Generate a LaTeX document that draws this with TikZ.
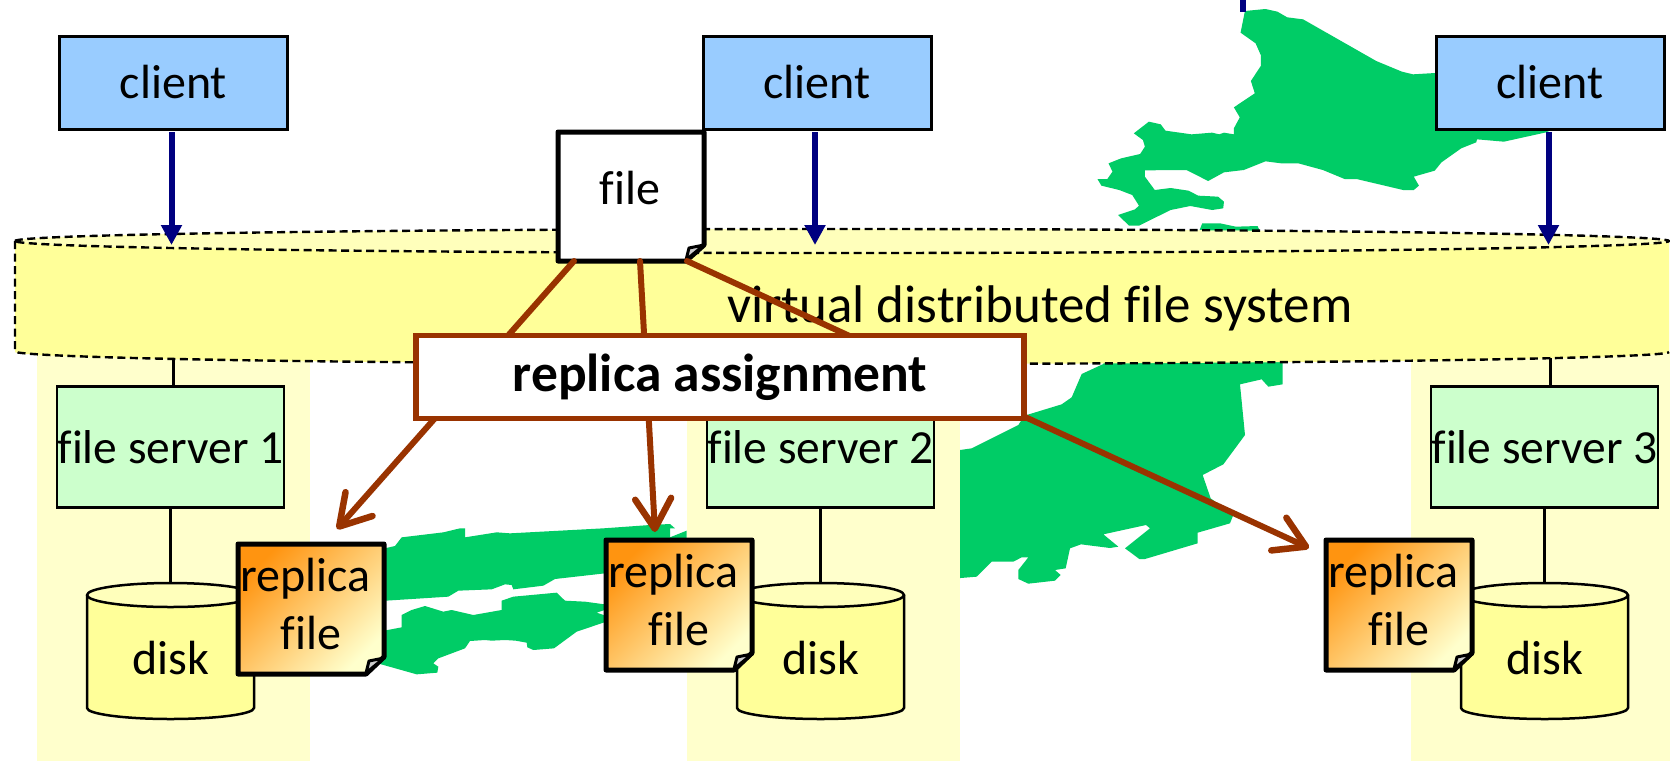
\documentclass[tikz,border=0pt]{standalone}
\usepackage{fontspec}
\setmainfont[Ligatures=NoCommon]{Carlito}
\usetikzlibrary{arrows.meta,calc}
\definecolor{panelc}{HTML}{FFFFCC}
\definecolor{bodyc}{HTML}{FFFF99}
\definecolor{topc}{HTML}{FFFFBB}
\definecolor{greenc}{HTML}{00CC66}
\definecolor{clientc}{HTML}{99CCFF}
\definecolor{serverc}{HTML}{CCFFCC}
\definecolor{brownc}{HTML}{993300}
\definecolor{navyc}{HTML}{000080}
\definecolor{orangec}{HTML}{FF9410}
\definecolor{midc}{HTML}{FFC888}
\definecolor{palec}{HTML}{FFFFCC}
\tikzset{
  lab/.style={font=\fontsize{48}{58}\selectfont,inner sep=0pt,align=center},
  clientbox/.style={draw=black,fill=clientc,line width=3pt,minimum width=228pt,minimum height=93pt,inner sep=0pt,font=\fontsize{48}{56}\selectfont},
  serverbox/.style={draw=black,fill=serverc,line width=2.5pt,minimum width=227pt,minimum height=121pt,inner sep=0pt,font=\fontsize{47.5}{56}\selectfont},
  panel/.style={fill=panelc,draw=none},
  land/.style={fill=greenc,draw=none},
  reqarrow/.style={draw=navyc,line width=6pt,-{Triangle[length=20pt,width=20pt]}},
  wire/.style={draw=black,line width=3pt},
  assign/.style={draw=brownc,line width=6pt,line cap=round},
  assignarrow/.style={assign,-{Straight Barb[length=30pt,width=36pt,round,line width=6.5pt]}},
  docedge/.style={draw=black,line width=5pt,line join=round},
  foldmark/.style={draw=black,line width=3pt,line join=round,fill=#1},
  diskedge/.style={draw=black,line width=2.5pt,line join=round},
  vdfs/.style={draw=black,line width=2.4pt,dash pattern=on 8pt off 4.5pt},
}
% disk: #1 centre x
\newcommand{\diskdraw}[1]{%
  \path[fill=bodyc,diskedge] (#1-83.5,595) -- (#1-83.5,708) .. controls (#1-83.5,714) and (#1-46,719) .. (#1,719) .. controls (#1+46,719) and (#1+83.5,714) .. (#1+83.5,708) -- (#1+83.5,595) -- cycle;
  \path[fill=topc,diskedge] (#1-83.5,595) .. controls (#1-83.5,588.4) and (#1-46,583) .. (#1,583) .. controls (#1+46,583) and (#1+83.5,588.4) .. (#1+83.5,595) .. controls (#1+83.5,601.6) and (#1+46,607) .. (#1,607) .. controls (#1-46,607) and (#1-83.5,601.6) .. (#1-83.5,595) -- cycle;
}
% replica document: #1 left, #2 top
\newcommand{\replicadraw}[2]{%
  \shade[left color=orangec,middle color=midc,right color=palec,shading angle=45]
    (#1,#2) -- (#1+146,#2) -- (#1+146,#2+113) -- (#1+128,#2+130) -- (#1,#2+130) -- cycle;
  \path[docedge] (#1,#2) -- (#1+146,#2) -- (#1+146,#2+113) -- (#1+128,#2+130) -- (#1,#2+130) -- cycle;
  \path[foldmark=gray!40] (#1+146,#2+114) -- (#1+131,#2+117) -- (#1+128,#2+129) -- cycle;
}
\begin{document}
\begin{tikzpicture}[x=1pt,y=-1pt]
\useasboundingbox (0,0) rectangle (1670,761);
\fill[white] (0,0) rectangle (1670,761);
% land, zoom-traced
\begin{scope}[shift={(1050,0)},x=0.3954pt,y=-0.33333pt]
\path[land] (493,33)--(545,27)--(575,35)--(600,52)--(640,58)--(825,183)--(890,215)--(918,223)--(1100,210)--(1300,300)--(1280,383)--(1255,397)--(1148,425)--(1080,418)--(1078,427)--(1040,445)--(990,487)--(973,512)--(920,530)--(933,557)--(920,570)--(893,570)--(775,537)--(745,537)--(690,510)--(628,490)--(585,490)--(545,484)--(490,510)--(440,517)--(400,543)--(345,510)--(240,511)--(240,530)--(265,570)--(305,564)--(350,572)--(375,587)--(425,590)--(440,605)--(438,625)--(410,630)--(355,618)--(305,630)--(225,677)--(200,677)--(172,645)--(215,628)--(225,617)--(208,585)--(175,570)--(130,557)--(120,537)--(145,537)--(158,515)--(148,490)--(180,475)--(228,462)--(240,440)--(235,420)--(212,400)--(250,365)--(280,373)--(292,392)--(358,403)--(410,398)--(428,403)--(440,398)--(465,403)--(465,385)--(480,352)--(465,322)--(518,280)--(508,243)--(533,198)--(533,165)--(520,130)--(482,98)--cycle;
\path[land] (375,700)--(385,670)--(430,670)--(470,680)--(525,678)--(533,700)--cycle;
\end{scope}
\begin{scope}[shift={(900,340)},x=0.33333pt,y=-0.33333pt]
\path[land] (180,330)--(215,325)--(355,255)--(370,232)--(380,225)--(485,193)--(515,172)--(545,102)--(610,72)--(610,40)--(1148,40)--(1148,133)--(1105,140)--(1085,118)--(1020,133)--(1035,285)--(970,373)--(908,405)--(932,475)--(1000,525)--(990,550)--(893,578)--(893,610)--(735,657)--(718,657)--(675,625)--(750,565)--(738,555)--(610,583)--(655,620)--(630,624)--(543,613)--(510,625)--(497,685)--(465,690)--(482,705)--(465,722)--(385,731)--(355,717)--(355,690)--(385,652)--(365,652)--(340,665)--(275,665)--(230,710)--(170,715)--(170,330)--cycle;
\end{scope}
\begin{scope}[shift={(350,480)},x=0.33333pt,y=-0.33333pt]
\path[land] (60,215)--(135,198)--(155,172)--(280,157)--(330,145)--(345,145)--(345,172)--(440,157)--(480,160)--(760,145)--(900,135)--(960,132)--(975,145)--(960,145)--(960,172)--(1010,152)--(1010,200)--(900,230)--(765,280)--(615,297)--(580,317)--(490,328)--(485,315)--(465,313)--(425,328)--(325,332)--(295,350)--(60,365)--cycle;
\path[land] (60,460)--(155,442)--(155,405)--(185,390)--(225,378)--(280,395)--(305,390)--(370,405)--(455,390)--(455,362)--(490,350)--(620,338)--(645,362)--(705,365)--(800,378)--(740,398)--(800,418)--(760,428)--(680,455)--(612,505)--(550,510)--(532,502)--(530,488)--(497,482)--(465,480)--(425,482)--(405,480)--(360,483)--(345,505)--(265,535)--(250,550)--(265,560)--(262,578)--(200,583)--(90,552)--(60,540)--cycle;
\end{scope}
% panels
\path[panel] (37,352) rectangle (310,761);
\path[panel] (687,352) rectangle (960,761);
\path[panel] (1411,352) rectangle (1670,761);
% top stub
\coordinate (stubA) at (1242.5,0);
\coordinate (stubB) at (1242.5,12);
\draw[draw=navyc,line width=6pt] (stubA) -- (stubB);
% virtual distributed file system
\path[fill=bodyc] (15,241) .. controls (15,247.6) and (385,253) .. (842,253) .. controls (1299,253) and (1669,247.6) .. (1669,241) -- (1669,352) .. controls (1669,358.6) and (1299,364) .. (842,364) .. controls (385,364) and (15,358.6) .. (15,352) -- cycle;
\path[fill=topc] (15,241) .. controls (15,234.4) and (385,229) .. (842,229) .. controls (1299,229) and (1669,234.4) .. (1669,241) .. controls (1669,247.6) and (1299,253) .. (842,253) .. controls (385,253) and (15,247.6) .. (15,241) -- cycle;
\path[vdfs] (15,241) .. controls (15,234.4) and (385,229) .. (842,229) .. controls (1299,229) and (1669,234.4) .. (1669,241) .. controls (1669,247.6) and (1299,253) .. (842,253) .. controls (385,253) and (15,247.6) .. (15,241) -- cycle;
\path[vdfs] (15,241) -- (15,349) .. controls (15,351) and (16,352) .. (18,352.5) .. controls (60,359) and (385,364) .. (842,364) .. controls (1299,364) and (1669,358.6) .. (1669,352);
\node[lab,font=\fontsize{53}{60}\selectfont] (vdfslabel) at (1040,308) {virtual distributed file system};
% clients
\node[clientbox] (client1) at (173.5,82.5) {client};
\node[clientbox] (client2) at (817,82.5) {client};
\node[clientbox] (client3) at (1550,82.5) {client};
\coordinate (c1a) at (171.5,132); \coordinate (c1b) at (171.5,245);
\coordinate (c2a) at (815,132);   \coordinate (c2b) at (815,245);
\coordinate (c3a) at (1548.5,132);\coordinate (c3b) at (1548.5,245);
\draw[reqarrow] (c1a) -- (c1b);
\draw[reqarrow] (c2a) -- (c2b);
\draw[reqarrow] (c3a) -- (c3b);
% servers
\node[serverbox] (server1) at (170.5,447) {\raisebox{-2pt}{file server 1}};
\node[serverbox] (server2) at (820.5,447) {\raisebox{-2pt}{file server 2}};
\node[serverbox] (server3) at (1544.5,447) {\raisebox{-2pt}{file server 3}};
\coordinate (s1up) at (173,358); \coordinate (s1in) at (173,386);
\coordinate (s3up) at (1550.5,358);\coordinate (s3in) at (1550.5,386);
\draw[wire] (s1up) -- (s1in);
\draw[wire] (s3up) -- (s3in);
% disks
\coordinate (d1top) at (170.5,583);
\coordinate (d2top) at (820.5,583);
\coordinate (d3top) at (1544.5,583);
\draw[wire] (server1.south) -- (d1top);
\draw[wire] (server2.south) -- (d2top);
\draw[wire] (server3.south) -- (d3top);
\diskdraw{170.5}
\diskdraw{820.5}
\diskdraw{1544.5}
\node[lab] (disk1) at (170.5,658) {disk};
\node[lab] (disk2) at (820.5,658) {disk};
\node[lab] (disk3) at (1544.5,658) {disk};
% replicas
\replicadraw{238}{544}
\replicadraw{606}{540}
\replicadraw{1326}{540}
\node[lab] (replica1) at (311,604) {replica\hspace*{0.23em}\\file};
\node[lab] (replica2) at (679,600) {replica\hspace*{0.23em}\\file};
\node[lab] (replica3) at (1399,600) {replica\hspace*{0.23em}\\file};
% master file
\path[fill=white,docedge] (558,132) -- (704,132) -- (704,245) -- (686,261) -- (558,261) -- cycle;
\path[foldmark=gray!40] (704,245) -- (689,248) -- (686,260) -- cycle;
\node[lab] (file) at (630,188) {file};
% assignment connectors
\coordinate (f1) at (574,261); \coordinate (t1) at (337,529);
\coordinate (f2) at (640,261); \coordinate (t2) at (655,532);
\coordinate (f3) at (687,261); \coordinate (t3) at (1309,548);
\draw[assignarrow] (f1) -- (t1);
\draw[assignarrow] (f2) -- (t2);
\draw[assignarrow] (f3) -- (t3);
\node[draw=brownc,fill=white,line width=5.5pt,minimum width=608pt,minimum height=83pt,inner sep=0pt,font=\fontsize{53.5}{60}\selectfont\bfseries] (assignbox) at (720,377) {\raisebox{-5pt}{replica assignment}};
\end{tikzpicture}
\end{document}
